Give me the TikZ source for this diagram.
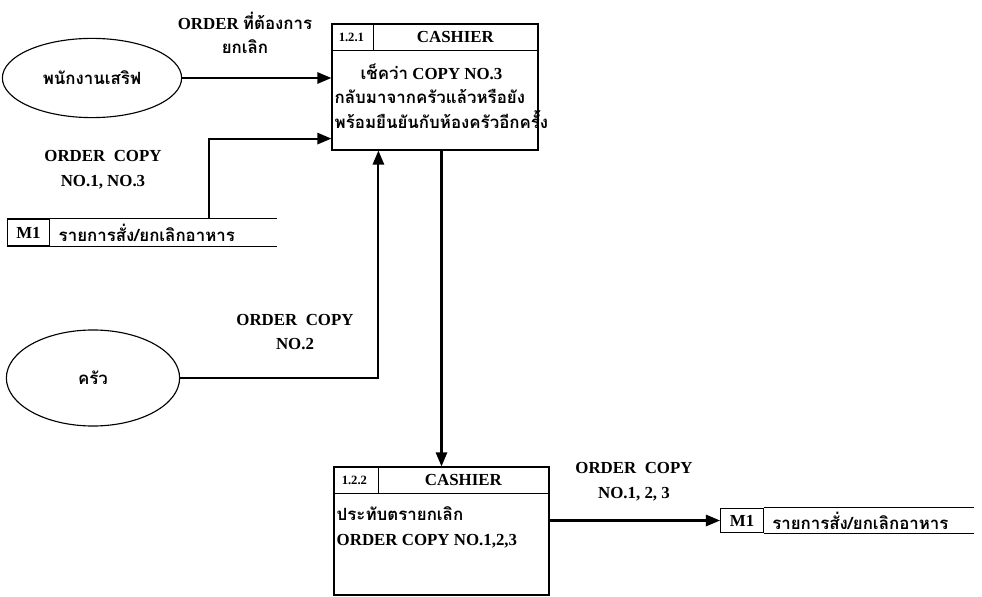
\documentclass[tikz,border=0pt]{standalone}
\usepackage{fontspec}
\setmainfont{Liberation Serif}
\newfontfamily\thaifont[Script=Thai]{Loma}
\usetikzlibrary{arrows.meta, positioning, shapes.geometric, calc}
\newcommand{\thai}[1]{{\thaifont #1}}

\begin{document}
\begin{tikzpicture}[
    x=0.025cm, y=-0.025cm,
    font=\bfseries\fontsize{12}{17.5}\selectfont,
    ext/.style={draw, ellipse, line width=0.8pt, inner sep=0pt},
    proc/.style={draw, line width=0.8pt, inner sep=0pt},
    idbox/.style={draw, line width=0.8pt, minimum width=1.07cm, inner sep=0pt},
    lbl/.style={align=center, inner sep=0pt},
    arrow/.style={-{Triangle[length=10pt, width=8pt]}, line width=1.5pt},
]
    \useasboundingbox (0,0) rectangle (982,597);

    % External entities
    \node[ext, minimum width=4.48cm, minimum height=1.98cm] (waiter) at (92,78) {\thai{พนักงานเสริฟ}};
    \node[ext, minimum width=4.33cm, minimum height=2.4cm] (kitchen) at (93,378) {\thai{ครัว}};

    % Process 1.2.1
    \node[proc, minimum width=5.15cm, minimum height=3.15cm] (p121) at (435,87) {};
    \draw[line width=0.8pt] ($(p121.north west)+(0,27)$) -- ($(p121.north east)+(0,27)$);
    \draw[line width=0.8pt] ($(p121.north west)+(42,0)$) -- ($(p121.north west)+(42,27)$);
    \node[font=\bfseries\fontsize{9}{10}\selectfont] (p121id) at ($(p121.north west)+(20,14)$) {1.2.1};
    \node (p121title) at ($(p121.north west)+(124,14)$) {CASHIER};
    \node[anchor=north west, align=left, inner sep=0pt] (p121text) at ($(p121.north west)+(3,40)$)
        {\hspace*{0.65cm}\thai{เช็คว่า} COPY NO.3\\\thai{กลับมาจากครัวแล้วหรือยัง}\\\thai{พร้อมยืนยันกับห้องครัวอีกครั้ง}};

    % Process 1.2.2
    \node[proc, minimum width=5.375cm, minimum height=3.2cm] (p122) at (441.5,531) {};
    \draw[line width=0.8pt] ($(p122.north west)+(0,27)$) -- ($(p122.north east)+(0,27)$);
    \draw[line width=0.8pt] ($(p122.north west)+(45,0)$) -- ($(p122.north west)+(45,27)$);
    \node[font=\bfseries\fontsize{9}{10}\selectfont] (p122id) at ($(p122.north west)+(21,14)$) {1.2.2};
    \node (p122title) at ($(p122.north west)+(130,14)$) {CASHIER};
    \node[anchor=north west, align=left, inner sep=0pt] (p122text) at ($(p122.north west)+(3,40)$)
        {\thai{ประทับตรายกเลิก}\\ORDER COPY NO.1,2,3};

    % Data stores
    \node[idbox, minimum height=0.675cm] (m1a) at (28.5,232.5) {M1};
    \node[anchor=west, inner sep=0pt] (m1atext) at ($(m1a.east)+(8,0)$) {\thai{รายการสั่ง/ยกเลิกอาหาร}};
    \draw[line width=0.8pt] (m1a.north east) -- ($(m1a.north west)+(270,0)$);
    \draw[line width=0.8pt] (m1a.south east) -- ($(m1a.south west)+(270,0)$);

    \node[idbox, minimum height=0.6cm] (m1b) at (742,520.5) {M1};
    \node[anchor=west, inner sep=0pt] (m1btext) at ($(m1b.east)+(8,0)$) {\thai{รายการสั่ง/ยกเลิกอาหาร}};
    \draw[line width=0.8pt] (m1b.north east) -- ($(m1b.north west)+(254,0)$);
    \draw[line width=0.8pt] (m1b.south east) -- ($(m1b.south west)+(254,0)$);

    % Flow labels
    \node[lbl] (f1) at (245,33) {ORDER \thai{ที่ต้องการ}\\\thai{ยกเลิก}};
    \node[lbl] (f2) at (103,170) {ORDER\ \ COPY\\NO.1, NO.3};
    \node[lbl] (f3) at (295,332) {ORDER\ \ COPY\\NO.2};
    \node[lbl] (f4) at (634,482) {ORDER\ \ COPY\\NO.1, 2, 3};

    % Flows
    \coordinate (s1) at (209,219);
    \draw[arrow] (waiter.east) -- (waiter.east -| p121.west);
    \draw[arrow] (s1) |- ($(p121.south west)+(0,-12)$);
    \draw[arrow] (kitchen.east) -| ($(p121.south west)+(47,0)$);
    \draw[arrow] (p122.north |- p121.south) -- (p122.north);
    \draw[arrow] (p122.east |- m1b.west) -- (m1b.west);
\end{tikzpicture}
\end{document}
